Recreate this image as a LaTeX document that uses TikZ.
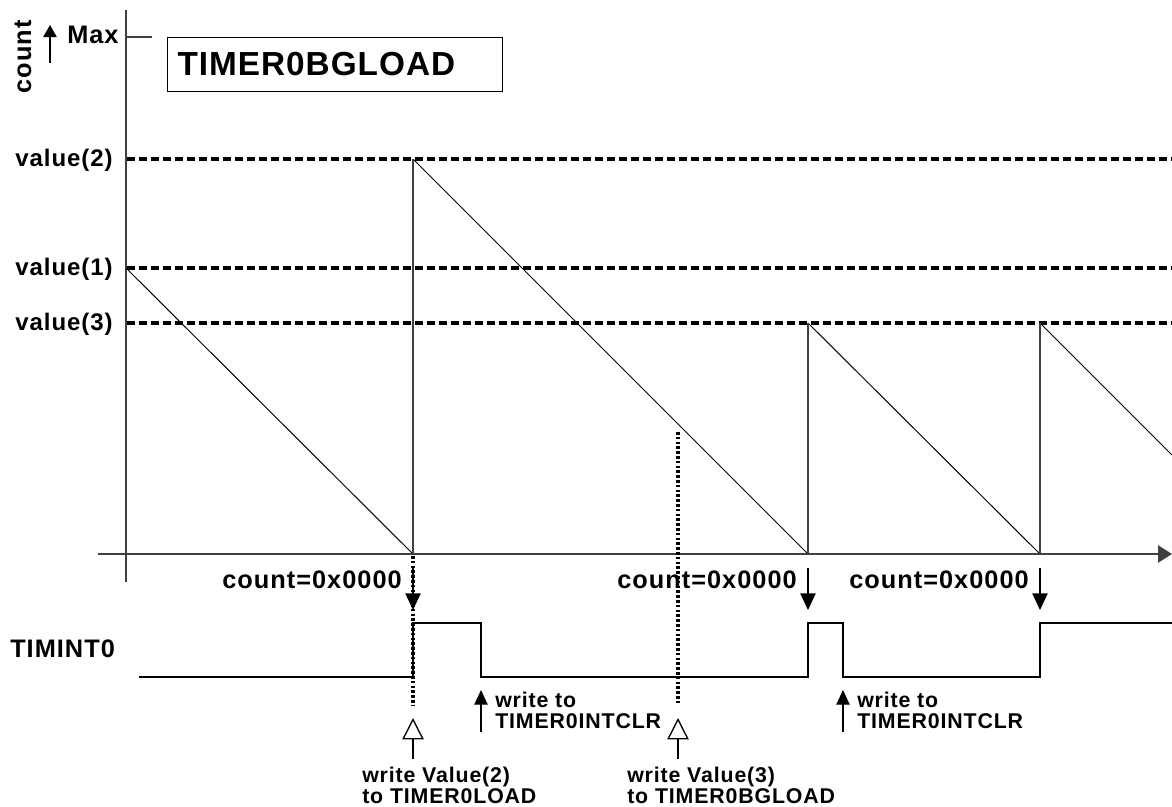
\documentclass[tikz,border=0pt]{standalone}
\usepackage{fontspec}
\setmainfont{Liberation Sans}[LetterSpace=4]
\usetikzlibrary{arrows.meta}
\begin{document}
\begin{tikzpicture}[x=0.75pt,y=-0.75pt]
	\tikzset{lbl/.style={font=\fontsize{19}{22}\selectfont\bfseries, inner sep=0pt},
		vlbl/.style={font=\fontsize{18}{22}\selectfont\bfseries, inner sep=0pt, anchor=base east},
		note/.style={font=\fontsize{16}{15.5}\selectfont\bfseries, inner sep=0pt, align=left, anchor=north west},
		ax/.style={draw=black!75, line width=1pt},
		ramp/.style={draw, line width=0.75pt},
		lvl/.style={draw, line width=2.4pt, dash pattern=on 6pt off 3pt},
		dotline/.style={draw, line width=2.4pt, dash pattern=on 2pt off 1.6pt},
		downarr/.style={-{Triangle[length=12.5pt,width=11.5pt]}, line width=1pt},
		uparr/.style={-{Triangle[length=11pt,width=10pt]}, line width=1pt},
		openarr/.style={-{Triangle[open,length=16pt,width=16pt]}, line width=1pt, fill=white}}
	\useasboundingbox (0,0) rectangle (1172,807);
	\coordinate (ytop) at (126,10);
	\coordinate (ybot) at (126,582);
	\coordinate (xl) at (98,554);
	\coordinate (xr) at (1172,554);
	\coordinate (maxt) at (152,37);
	\draw[ax] (ytop) -- (ybot);
	\draw[ax,-{Triangle[length=10.5pt,width=13pt]}] (xl) -- (xr);
	\draw[ax] (maxt) -- (maxt -| ytop);
	\node[lbl,rotate=90] (cnt) at (23,57) {count};
	\coordinate (mb) at (50,63);
	\coordinate (mt) at (50,25);
	\draw[uparr,-{Triangle[length=9pt,width=10pt]}] (mb) -- (mt);
	\node[lbl,anchor=base west] (max) at (67,43) {Max};
	\node[draw, line width=0.75pt, anchor=west, minimum height=40.5pt, inner xsep=7.5pt, text width=236pt, align=left,
		font=\fontsize{25}{30}\selectfont\bfseries\addfontfeature{LetterSpace=3}] (title) at (167,64) {TIMER0BGLOAD};
	\foreach \n/\y in {2/159,1/268,3/323} {
		\node[vlbl] (v\n) at (113,{\y+7.5}) {value(\n)};
		\coordinate (l\n) at (127,\y);
		\coordinate (r\n) at (1172,\y);
		\draw[lvl] (l\n) -- (r\n);
	}
	\coordinate (s0) at (126,268);
	\coordinate (z1) at (413,554);
	\coordinate (p2) at (413,159);
	\coordinate (z2) at (808,554);
	\coordinate (p3) at (808,323);
	\coordinate (z3) at (1040,554);
	\coordinate (p4) at (1040,323);
	\coordinate (e) at (1172,455);
	\draw[ramp] (s0) -- (z1);
	\draw[ramp] (p2) -- (z2);
	\draw[ramp] (p3) -- (z3);
	\draw[ramp] (p4) -- (e);
	\draw[ax] (z1) -- (p2);
	\draw[ax] (z2) -- (p3);
	\draw[ax] (z3) -- (p4);
	\coordinate (d1t) at (413,556);
	\coordinate (d1b) at (413,705);
	\coordinate (d2t) at (678,432);
	\coordinate (d2b) at (678,705);
	\draw[dotline] (d1t) -- (d1b);
	\draw[dotline] (d2t) -- (d2b);
	\foreach \x [count=\i] in {413,808,1040} {
		\node[lbl,anchor=base east] (c\i) at ({\x-11},588) {count=0x0000};
		\coordinate (ca\i) at (\x,568);
		\coordinate (cb\i) at (\x,610);
		\draw[downarr] (ca\i) -- (cb\i);
	}
	\node[lbl,anchor=base west] (tim) at (10,657) {TIMINT0};
	\draw[line width=1pt] (139,677) -- (413,677) -- (413,623) -- (481,623) -- (481,677) -- (808,677) -- (808,623)
		-- (843,623) -- (843,677) -- (1040,677) -- (1040,623) -- (1172,623);
	\foreach \x [count=\i] in {481,843} {
		\coordinate (wa\i) at (\x,732);
		\coordinate (wb\i) at (\x,690);
		\draw[uparr] (wa\i) -- (wb\i);
		\node[note] (w\i) at ({\x+14},692) {write to\\TIMER0INTCLR};
	}
	\coordinate (oa1) at (413,759);
	\coordinate (ob1) at (413,718);
	\coordinate (oa2) at (678,759);
	\coordinate (ob2) at (678,718);
	\draw[openarr] (oa1) -- (ob1);
	\draw[openarr] (oa2) -- (ob2);
	\node[note] (n1) at (362,767) {write Value(2)\\to TIMER0LOAD};
	\node[note] (n2) at (627,767) {write Value(3)\\to TIMER0BGLOAD};
\end{tikzpicture}
\end{document}
